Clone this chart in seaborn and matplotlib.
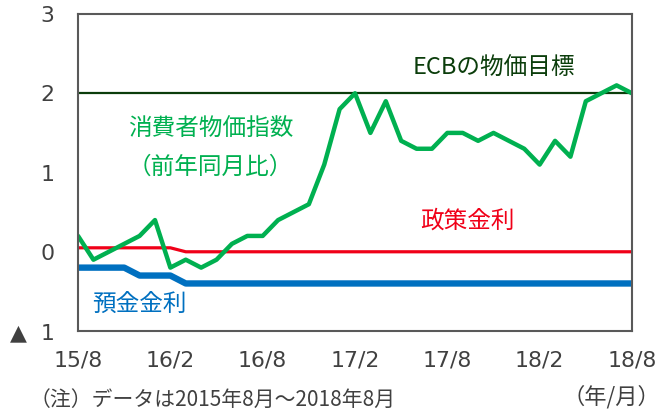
import numpy as np
import pandas as pd
import seaborn as sns
import matplotlib.pyplot as plt

# monthly data, 2015/8 .. 2018/8
months = list(range(37))
cpi = [0.2, -0.1, 0.0, 0.1, 0.2, 0.4, -0.2, -0.1, -0.2, -0.1, 0.1, 0.2, 0.2,
       0.4, 0.5, 0.6, 1.1, 1.8, 2.0, 1.5, 1.9, 1.4, 1.3, 1.3, 1.5, 1.5, 1.4,
       1.5, 1.4, 1.3, 1.1, 1.4, 1.2, 1.9, 2.0, 2.1, 2.0]
policy = [0.05] * 7 + [0.0] * 30
deposit = [-0.2] * 4 + [-0.3] * 3 + [-0.4] * 30
target = [2.0] * 37

xticks = [0, 6, 12, 18, 24, 30, 36]
xlabels = ['15/8', '16/2', '16/8', '17/2', '17/8', '18/2', '18/8']
yticks = [-1, 0, 1, 2, 3]
ylabels = ['▲  1', '0', '1', '2', '3']

df = pd.DataFrame({'month': months, 'cpi': cpi, 'policy': policy,
                   'deposit': deposit, 'target': target})

sns.set_style('white')
plt.rcParams['font.family'] = ['DejaVu Sans', 'Noto Sans CJK JP']
jp = ['Noto Sans CJK JP', 'DejaVu Sans']

fig = plt.figure(figsize=(6.67, 4.13), dpi=100)
ax = fig.add_axes([0.117, 0.1985, 0.8305, 0.7675])

sns.lineplot(data=df, x='month', y='target', color='#0B3D0B', lw=1.6, ax=ax)
sns.lineplot(data=df, x='month', y='deposit', color='#0070C0', lw=4.6, ax=ax)
sns.lineplot(data=df, x='month', y='policy', color='#F00018', lw=2.3, ax=ax)
sns.lineplot(data=df, x='month', y='cpi', color='#00B050', lw=3.2, ax=ax)

ax.set_xlim(0, 36)
ax.set_ylim(-1, 3)
ax.set_xticks(xticks)
ax.set_xticklabels(xlabels)
ax.set_yticks(yticks)
ax.set_yticklabels(ylabels)
ax.set_xlabel('')
ax.set_ylabel('')
ax.tick_params(axis='both', direction='in', length=6, width=1.3,
               color='#595959', labelsize=15.8, labelcolor='#404040')
ax.tick_params(axis='x', pad=14)
ax.tick_params(axis='y', pad=17)
for s in ax.spines.values():
    s.set_color('#595959')
    s.set_linewidth(1.5)

ax.text(27.0, 2.33, 'ECBの物価目標', color='#0B3D0B', fontsize=17,
        ha='center', va='center', family=jp)
ax.text(8.6, 1.55, '消費者物価指数', color='#00B050', fontsize=17,
        ha='center', va='center', family=jp)
ax.text(8.6, 1.07, '（前年同月比）', color='#00B050', fontsize=17,
        ha='center', va='center', family=jp)
ax.text(25.3, 0.39, '政策金利', color='#F00018', fontsize=17,
        ha='center', va='center', family=jp)
ax.text(4.0, -0.66, '預金金利', color='#0070C0', fontsize=17,
        ha='center', va='center', family=jp)

fig.text(0.917, 0.04, '（年/月）', color='#404040', fontsize=16,
         ha='center', va='center', family=jp)
fig.text(0.045, 0.004, '（注）データは2015年8月～2018年8月', color='#404040',
         fontsize=15, ha='left', va='bottom', family=jp)

fig.savefig('out.png', dpi=100)
